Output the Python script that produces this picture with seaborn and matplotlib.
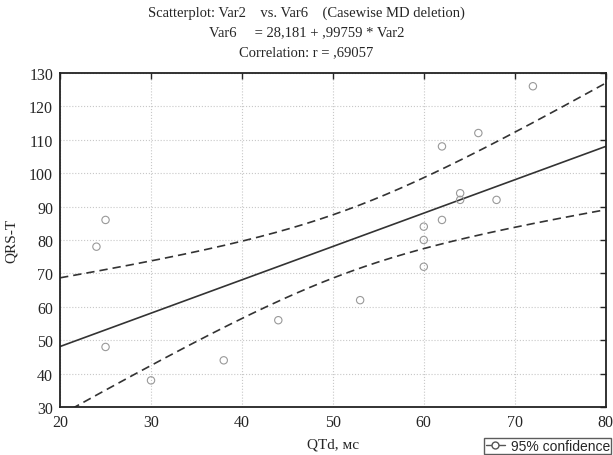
import numpy as np
import pandas as pd
import matplotlib
matplotlib.use("Agg")
import matplotlib.pyplot as plt
import seaborn as sns
from matplotlib.lines import Line2D

# Data
qtd = [24, 25, 25, 30, 38, 44, 53, 60, 60, 60, 62, 62, 64, 64, 66, 68, 72]
qrs_t = [78, 86, 48, 38, 44, 56, 62, 72, 80, 84, 86, 108, 92, 94, 112, 92, 126]
intercept = 28.181
slope = 0.99759
t_crit = 2.131  # t(0.975, df=15)

x_ticks = [20, 30, 40, 50, 60, 70, 80]
y_ticks = [30, 40, 50, 60, 70, 80, 90, 100, 110, 120, 130]

df = pd.DataFrame({"Var2": qtd, "Var6": qrs_t})

sns.set_style("white")
serif = ["Liberation Serif", "DejaVu Serif"]
plt.rcParams["font.family"] = serif

fig = plt.figure(figsize=(6.13, 4.56), dpi=100)
ax = fig.add_axes([0.098, 0.105, 0.890, 0.733])

# regression line and 95% confidence band for the mean
x = df["Var2"].values
y = df["Var6"].values
n = len(x)
xs = np.linspace(20, 80, 200)
fit = intercept + slope * xs
resid = y - (intercept + slope * x)
s = np.sqrt((resid ** 2).sum() / (n - 2))
se = s * np.sqrt(1 / n + (xs - x.mean()) ** 2 / ((x - x.mean()) ** 2).sum())

ax.plot(xs, fit, color="#333333", lw=1.2)
ax.plot(xs, fit + t_crit * se, color="#333333", lw=1.2, ls=(0, (5, 3)))
ax.plot(xs, fit - t_crit * se, color="#333333", lw=1.2, ls=(0, (5, 3)))

sns.scatterplot(data=df, x="Var2", y="Var6", ax=ax, marker="o", s=28,
                facecolor="none", edgecolor="#999999", linewidth=0.8, zorder=3)

ax.set_xlim(20, 80)
ax.set_ylim(30, 130)
ax.set_xticks(x_ticks)
ax.set_yticks(y_ticks)
ax.grid(True, color="#c8c8c8", ls=":", lw=0.8)
ax.tick_params(direction="in", length=4, width=1, top=True, right=True,
               labelsize=11.5, pad=5)
for sp in ax.spines.values():
    sp.set_color("#222222")
    sp.set_linewidth(1.3)

ax.set_xlabel("QTd, мс", fontsize=11, labelpad=5)
ax.set_ylabel("QRS-T", fontsize=11, labelpad=8)

fig.text(0.5, 0.972, "Scatterplot: Var2    vs. Var6    (Casewise MD deletion)",
         ha="center", va="center", fontsize=10.5)
fig.text(0.5, 0.928, "Var6     = 28,181 + ,99759 * Var2",
         ha="center", va="center", fontsize=10.5)
fig.text(0.5, 0.884, "Correlation: r = ,69057",
         ha="center", va="center", fontsize=10.5)

handle = Line2D([], [], color="#555555", lw=1, marker="o", markersize=5,
                markerfacecolor="white", markeredgecolor="#555555")
leg = fig.legend([handle], ["95% confidence"], loc="upper left",
                 bbox_to_anchor=(0.790, 0.038), borderaxespad=0,
                 frameon=True, fancybox=False,
                 prop={"family": ["Liberation Sans", "DejaVu Sans"], "size": 10},
                 handlelength=1.4, borderpad=0.1, handletextpad=0.4)
leg.get_frame().set_edgecolor("#333333")
leg.get_frame().set_linewidth(1)

fig.savefig("out.png", dpi=100)
